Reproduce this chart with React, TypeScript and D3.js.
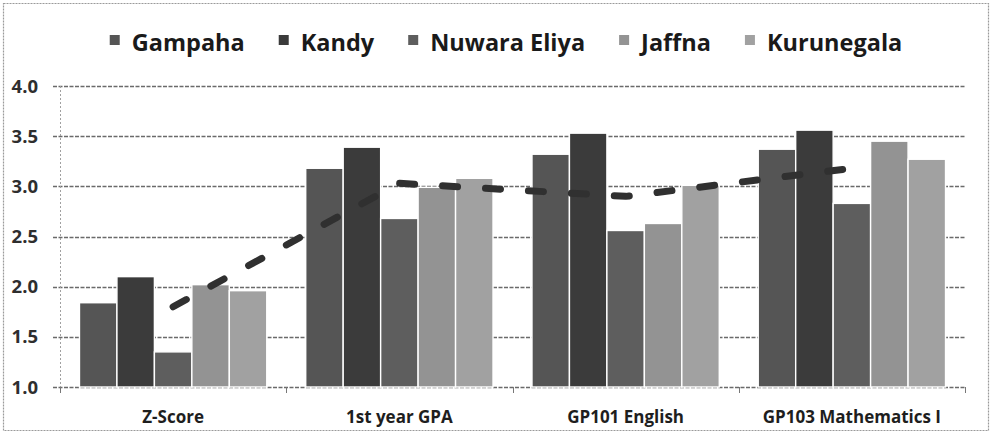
import React, { useEffect, useRef } from "react";
import * as d3 from "d3";

const categories = ["Z-Score", "1st year GPA", "GP101 English", "GP103 Mathematics I"];
const seriesNames = ["Gampaha", "Kandy", "Nuwara Eliya", "Jaffna", "Kurunegala"];
const gampaha = [1.84, 3.18, 3.32, 3.37];
const kandy = [2.1, 3.39, 3.53, 3.56];
const nuwaraEliya = [1.35, 2.68, 2.56, 2.83];
const jaffna = [2.02, 2.99, 2.63, 3.45];
const kurunegala = [1.96, 3.08, 3.01, 3.27];
const trendValues = [1.8, 3.03, 2.9, 3.18];
const yTicks = [1.0, 1.5, 2.0, 2.5, 3.0, 3.5, 4.0];
const seriesColors = ["#555555", "#3b3b3b", "#5e5e5e", "#939393", "#a1a1a1"];

const W = 992;
const H = 433;
const FONT = "'Open Sans', sans-serif";

export default function App() {
  const ref = useRef<SVGSVGElement>(null);

  useEffect(() => {
    const svg = d3.select(ref.current);
    svg.selectAll("*").remove();

    const seriesValues = [gampaha, kandy, nuwaraEliya, jaffna, kurunegala];
    const margin = { left: 60, right: 27, top: 86, bottom: 46 };
    const x0 = d3.scaleBand<string>().domain(categories).range([margin.left, W - margin.right]).padding(0);
    const x1 = d3
      .scaleBand<string>()
      .domain(seriesNames)
      .range([0, x0.bandwidth()])
      .paddingInner(0)
      .paddingOuter(0.52);
    const y = d3.scaleLinear().domain([1, 4]).range([H - margin.bottom, margin.top]);

    // frame
    svg
      .append("rect")
      .attr("x", 3.5)
      .attr("y", 3.5)
      .attr("width", W - 7)
      .attr("height", H - 6)
      .attr("fill", "#fff")
      .attr("stroke", "#9a9a9a")
      .attr("stroke-width", 1.2)
      .attr("stroke-dasharray", "2 1");

    // gridlines + y ticks
    const xl = margin.left;
    const xr = W - margin.right;
    svg
      .append("g")
      .selectAll("line")
      .data(yTicks)
      .join("line")
      .attr("x1", xl - 7)
      .attr("x2", xr)
      .attr("y1", (d) => Math.round(y(d)) + 0.5)
      .attr("y2", (d) => Math.round(y(d)) + 0.5)
      .attr("stroke", "#6a6a6a")
      .attr("stroke-width", 1.3)
      .attr("stroke-dasharray", "4 1.5");

    svg
      .append("g")
      .selectAll("text")
      .data(yTicks)
      .join("text")
      .attr("x", 38)
      .attr("y", (d) => y(d))
      .attr("dy", "0.36em")
      .attr("text-anchor", "end")
      .attr("font-family", FONT)
      .attr("font-weight", 700)
      .attr("font-size", 18.5)
      .attr("fill", "#2e2e2e")
      .text((d) => d3.format(".1f")(d));

    // y axis line
    svg
      .append("line")
      .attr("x1", xl + 0.5)
      .attr("x2", xl + 0.5)
      .attr("y1", y(4))
      .attr("y2", y(1))
      .attr("stroke", "#a0a0a0")
      .attr("stroke-width", 1)
      .attr("stroke-dasharray", "2 2");

    // bars
    const groups = svg
      .append("g")
      .selectAll("g")
      .data(categories)
      .join("g")
      .attr("transform", (c) => `translate(${x0(c)},0)`);
    groups
      .selectAll("rect")
      .data((c, ci) => seriesNames.map((s, si) => ({ s, si, v: seriesValues[si][ci] })))
      .join("rect")
      .attr("x", (d) => x1(d.s)!)
      .attr("y", (d) => y(d.v))
      .attr("width", x1.bandwidth())
      .attr("height", (d) => y(1) - y(d.v))
      .attr("fill", (d) => seriesColors[d.si])
      .attr("stroke", "#ffffff")
      .attr("stroke-width", 1.4);

    // bottom ticks at band boundaries
    const bounds = categories.map((c) => x0(c)!).concat([xr]);
    svg
      .append("g")
      .selectAll("line")
      .data(bounds)
      .join("line")
      .attr("x1", (d) => Math.round(d) + 0.5)
      .attr("x2", (d) => Math.round(d) + 0.5)
      .attr("y1", y(1))
      .attr("y2", y(1) + 6)
      .attr("stroke", "#777")
      .attr("stroke-width", 1);

    // category labels
    svg
      .append("g")
      .selectAll("text")
      .data(categories)
      .join("text")
      .attr("x", (c) => x0(c)! + x0.bandwidth() / 2)
      .attr("y", H - 10)
      .attr("text-anchor", "middle")
      .attr("font-family", FONT)
      .attr("font-weight", 700)
      .attr("font-size", 17)
      .attr("fill", "#1e1e1e")
      .text((c) => c);

    // trend line (straight segments between category centres)
    const line = d3
      .line<number>()
      .x((_, i) => x0(categories[i])! + x0.bandwidth() / 2)
      .y((d) => y(d))
      .curve(d3.curveLinear);
    svg
      .append("path")
      .attr("d", line(trendValues))
      .attr("fill", "none")
      .attr("stroke", "#303030")
      .attr("stroke-width", 7)
      .attr("stroke-linecap", "round")
      .attr("stroke-linejoin", "round")
      .attr("stroke-dasharray", "15 28");

    // legend
    const lg = svg.append("g");
    const items = lg.selectAll("g").data(seriesNames).join("g");
    items
      .append("rect")
      .attr("width", 10)
      .attr("height", 10)
      .attr("y", 35)
      .attr("fill", (_, i) => seriesColors[i]);
    items
      .append("text")
      .attr("x", 22)
      .attr("y", 51)
      .attr("font-family", FONT)
      .attr("font-weight", 700)
      .attr("font-size", 23.5)
      .attr("fill", "#1a1a1a")
      .text((d) => d);
    const widths: number[] = [];
    items.each(function () {
      const t = d3.select(this).select("text").node() as SVGTextElement;
      widths.push(22 + t.getComputedTextLength());
    });
    const gap = 34;
    const total = d3.sum(widths) + gap * (widths.length - 1);
    let cx = 506 - total / 2;
    items.attr("transform", (_, i) => {
      const tx = cx;
      cx += widths[i] + gap;
      return `translate(${tx},0)`;
    });
  }, []);

  return (
    <svg
      ref={ref}
      width={W}
      height={H}
      style={{ position: "absolute", left: 0, top: 0, background: "#fff" }}
    />
  );
}
